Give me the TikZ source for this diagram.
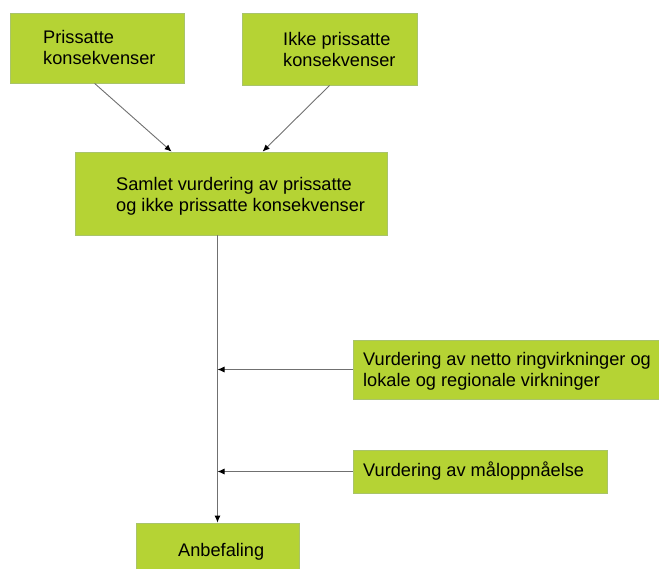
\documentclass[tikz,border=0pt]{standalone}
\usepackage{fontspec}
\setmainfont{Liberation Sans}
\usetikzlibrary{calc,arrows.meta}
\definecolor{limefill}{HTML}{B5D334}
\definecolor{limeborder}{HTML}{A9C46A}
\definecolor{linegray}{HTML}{707070}
\tikzset{
  box/.style={draw=limeborder, line width=0.8pt, fill=limefill, rectangle, inner sep=0pt},
  lbl/.style={anchor=base west, inner sep=0pt, align=left, font=\fontsize{18.2pt}{21pt}\selectfont, text=black},
  conn/.style={draw=linegray, line width=0.9pt, -{Latex[length=7pt,width=6pt,fill=black,color=black]}},
  plainconn/.style={draw=linegray, line width=0.9pt}
}
\begin{document}
\begin{tikzpicture}[x=1pt,y=-1pt]
\useasboundingbox (0,0) rectangle (659,568);
\begin{scope}
\clip (0,0) rectangle (659,568);
\node[box, minimum width=174pt, minimum height=70pt] (b1) at (97,48) {};
\node[box, minimum width=175pt, minimum height=72pt] (b2) at (329.5,49) {};
\node[box, minimum width=312pt, minimum height=83pt] (b3) at (231,193.5) {};
\node[box, minimum width=309pt, minimum height=59pt] (b4) at (507.5,369.5) {};
\node[box, minimum width=254pt, minimum height=43pt] (b5) at (480,471.5) {};
\node[box, minimum width=163pt, minimum height=67pt] (b6) at (217.5,556.5) {};

% multi-line labels: base anchor is the baseline of the last line
\node[lbl] (t1) at (43,64) {Prissatte\\konsekvenser};
\node[lbl] (t2) at (283,66) {Ikke prissatte\\konsekvenser};
\node[lbl] (t3) at (116,211) {Samlet vurdering av prissatte\\og ikke prissatte konsekvenser};
\node[lbl] (t4) at (363,386) {Vurdering av netto ringvirkninger og\\lokale og regionale virkninger};
\node[lbl] (t5) at (363,476.5) {Vurdering av måloppnåelse};
\node[lbl] (t6) at (178,556.5) {Anbefaling};

\draw[conn] ($(b1.south west)+(85,0)$) -- ($(b3.north west)+(97,0)$);
\draw[conn] ($(b2.south west)+(88,0)$) -- ($(b3.north west)+(188,0)$);
\draw[conn] (b6.north |- b3.south) -- (b6.north);
\draw[conn] (b4.west) -- (b6.north |- b4.west);
\draw[conn] (b5.west) -- (b6.north |- b5.west);
\end{scope}
\end{tikzpicture}
\end{document}
